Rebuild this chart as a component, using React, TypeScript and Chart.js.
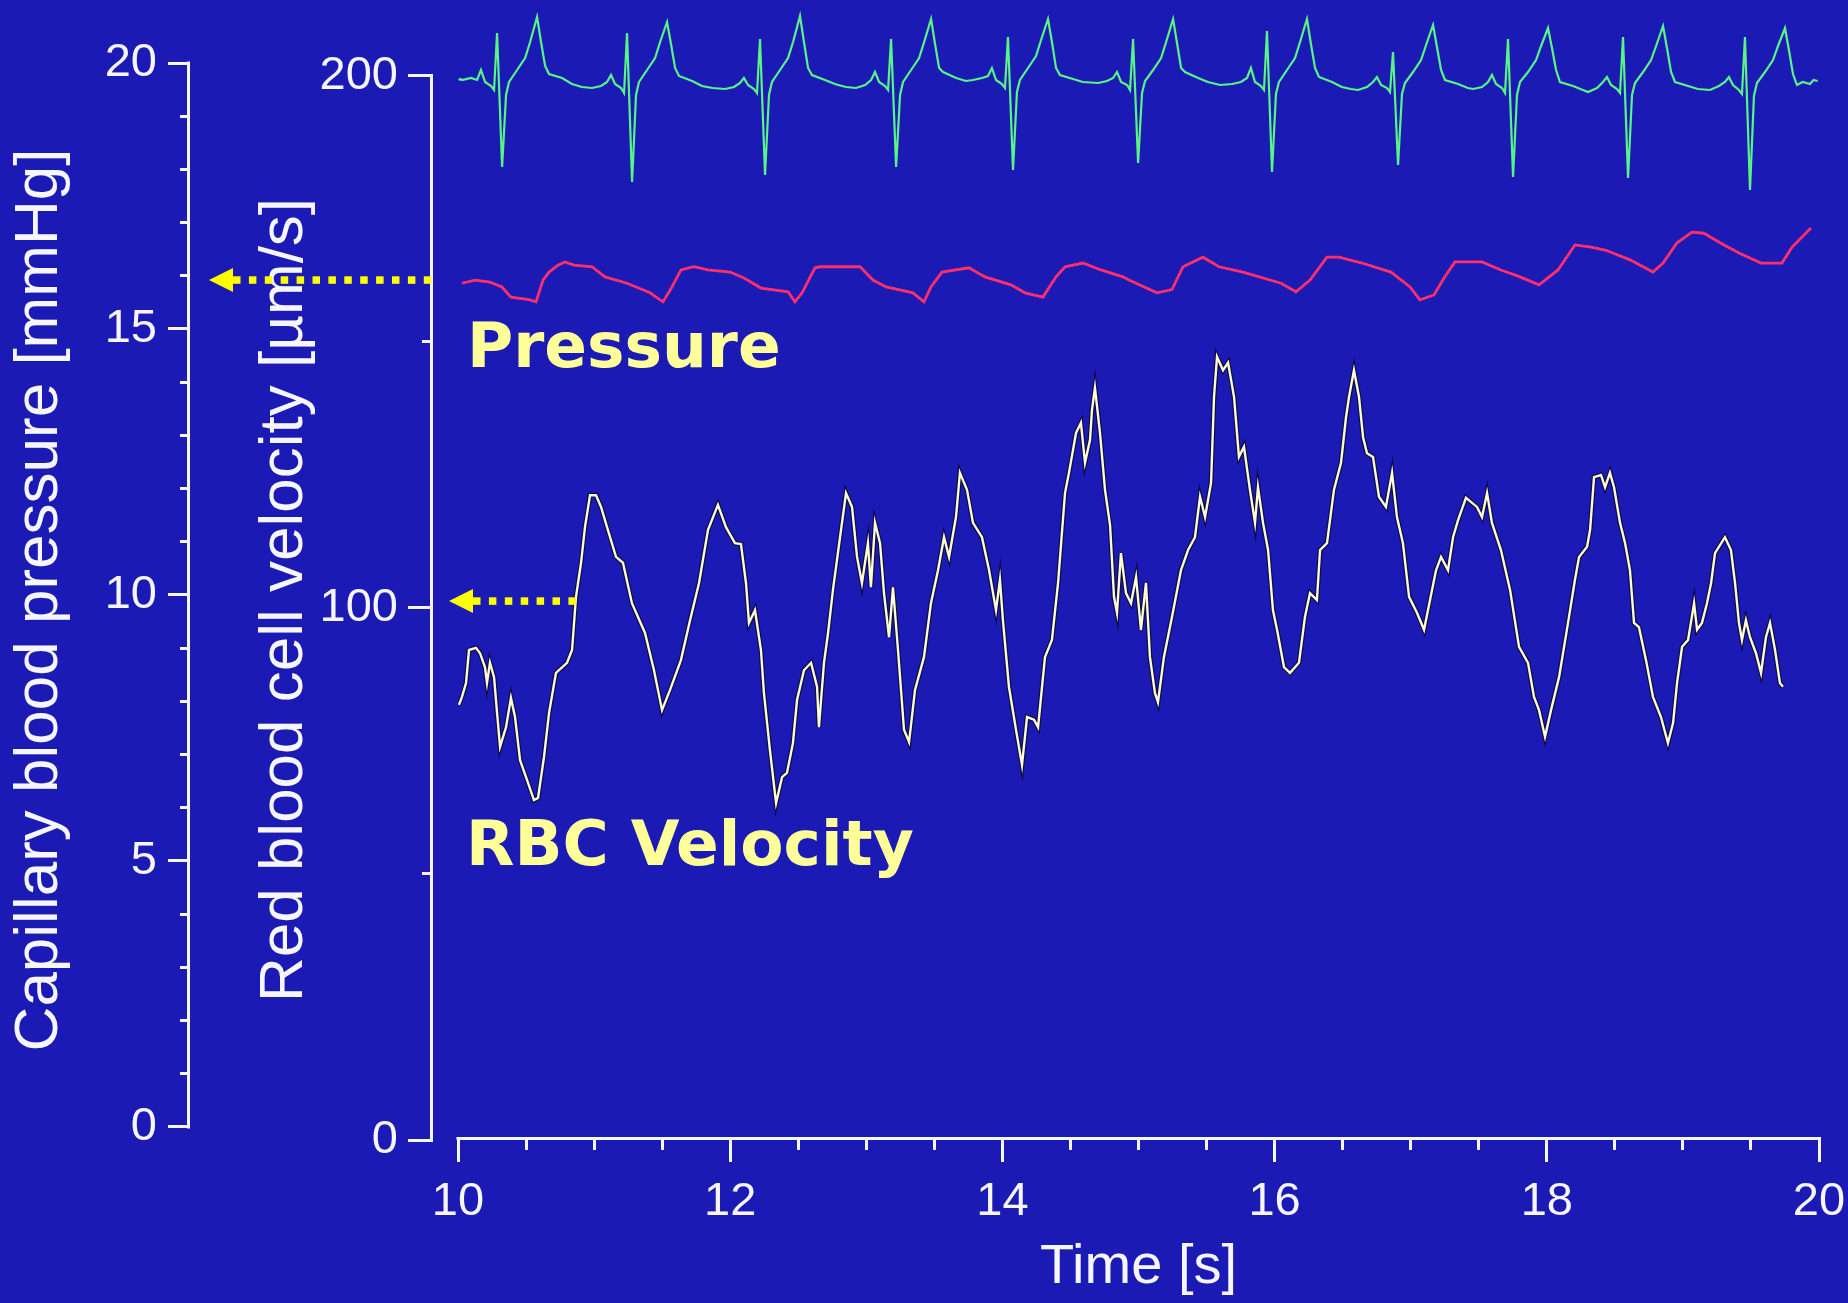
import React, { useEffect, useRef } from 'react';
import { Chart, registerables } from 'chart.js';

Chart.register(...registerables);

// ---------------- data ----------------
const timeMajorTicks = [10, 12, 14, 16, 18, 20];
const timeMinorTicks = [10.5, 11, 11.5, 12.5, 13, 13.5, 14.5, 15, 15.5, 16.5, 17, 17.5, 18.5, 19, 19.5];
const pressureMajorTicks = [0, 5, 10, 15, 20];
const pressureMinorTicks = [1, 2, 3, 4, 6, 7, 8, 9, 11, 12, 13, 14, 16, 17, 18, 19];
const velocityMajorTicks = [0, 100, 200];
const velocityMinorTicks = [50, 150];

// ECG (mV, hidden axis)
const ecgTime = [
  10.005, 10.018,
  10.030, 10.096, 10.140, 10.169, 10.199, 10.243, 10.265, 10.287, 10.324, 10.353, 10.375, 10.434, 10.493, 10.530, 10.581, 10.610, 10.640, 10.669, 10.765, 10.837, 10.910,
  10.985, 11.051, 11.095, 11.124, 11.154, 11.198, 11.220, 11.242, 11.279, 11.308, 11.330, 11.389, 11.448, 11.485, 11.536, 11.565, 11.595, 11.624, 11.720, 11.792, 11.870,
  11.962, 12.028, 12.072, 12.101, 12.131, 12.175, 12.197, 12.219, 12.256, 12.285, 12.307, 12.366, 12.425, 12.462, 12.513, 12.542, 12.572, 12.601, 12.697, 12.769, 12.850,
  12.925, 12.991, 13.035, 13.064, 13.094, 13.138, 13.160, 13.182, 13.219, 13.248, 13.270, 13.329, 13.388, 13.425, 13.476, 13.505, 13.535, 13.564, 13.660, 13.732,
  13.784, 13.850, 13.894, 13.923, 13.953, 13.997, 14.019, 14.041, 14.078, 14.107, 14.129, 14.188, 14.247, 14.284, 14.335, 14.364, 14.394, 14.423, 14.519, 14.591,
  14.703, 14.769, 14.813, 14.842, 14.872, 14.916, 14.938, 14.960, 14.997, 15.026, 15.048, 15.107, 15.166, 15.203, 15.254, 15.283, 15.313, 15.342, 15.438, 15.510, 15.600,
  15.687, 15.753, 15.797, 15.826, 15.856, 15.900, 15.922, 15.944, 15.981, 16.010, 16.032, 16.091, 16.150, 16.187, 16.238, 16.267, 16.297, 16.326, 16.422, 16.494, 16.560,
  16.613, 16.679, 16.723, 16.752, 16.782, 16.826, 16.848, 16.870, 16.907, 16.936, 16.958, 17.017, 17.076, 17.113, 17.164, 17.193, 17.223, 17.252, 17.348, 17.420,
  17.458, 17.524, 17.568, 17.597, 17.627, 17.671, 17.693, 17.715, 17.752, 17.781, 17.803, 17.862, 17.921, 17.958, 18.009, 18.038, 18.068, 18.097, 18.193, 18.265,
  18.303, 18.369, 18.413, 18.442, 18.472, 18.516, 18.538, 18.560, 18.597, 18.626, 18.648, 18.707, 18.766, 18.803, 18.854, 18.883, 18.913, 18.942, 19.038, 19.110,
  19.199, 19.265, 19.309, 19.338, 19.368, 19.412, 19.434, 19.456, 19.493, 19.522, 19.544, 19.603, 19.662, 19.699, 19.750, 19.779, 19.809, 19.838, 19.880, 19.934, 19.960, 19.990,
];
const ecgValue = [
  0.00, 0.01,
  0.00, 0.02, 0.00, 0.10, -0.02, -0.06, -0.10, 0.47, -0.87, -0.15, -0.02, 0.10, 0.22, 0.38, 0.63, 0.38, 0.14, 0.06, 0.02, -0.04, -0.07,
  -0.08, -0.06, -0.02, 0.05, -0.04, -0.08, -0.13, 0.47, -1.02, -0.15, -0.02, 0.10, 0.22, 0.38, 0.58, 0.36, 0.12, 0.04, -0.01, -0.06, -0.08,
  -0.09, -0.07, -0.03, 0.02, -0.05, -0.09, -0.13, 0.41, -0.95, -0.15, -0.02, 0.10, 0.22, 0.38, 0.64, 0.38, 0.12, 0.05, 0.00, -0.04, -0.07,
  -0.08, -0.05, 0.00, 0.08, -0.02, -0.06, -0.10, 0.41, -0.87, -0.15, -0.02, 0.10, 0.22, 0.38, 0.61, 0.36, 0.12, 0.08, 0.02, -0.01,
  0.00, 0.02, 0.04, 0.12, 0.00, -0.04, -0.08, 0.43, -0.90, -0.12, 0.00, 0.12, 0.24, 0.40, 0.61, 0.38, 0.12, 0.05, 0.01, -0.02,
  -0.03, -0.01, 0.02, 0.08, -0.02, -0.05, -0.10, 0.41, -0.83, -0.13, -0.01, 0.10, 0.22, 0.38, 0.61, 0.37, 0.12, 0.08, 0.02, -0.02, -0.05,
  -0.04, -0.02, 0.02, 0.12, -0.02, -0.06, -0.10, 0.49, -0.92, -0.14, -0.02, 0.10, 0.22, 0.38, 0.61, 0.36, 0.12, 0.03, -0.02, -0.07, -0.09,
  -0.10, -0.07, -0.02, 0.03, -0.05, -0.08, -0.12, 0.28, -0.85, -0.14, -0.03, 0.08, 0.20, 0.35, 0.55, 0.33, 0.10, 0.00, -0.04, -0.08,
  -0.09, -0.07, -0.02, 0.05, -0.04, -0.08, -0.13, 0.41, -0.97, -0.15, -0.02, 0.08, 0.20, 0.34, 0.52, 0.32, 0.10, -0.02, -0.06, -0.10,
  -0.12, -0.08, -0.02, 0.03, -0.05, -0.09, -0.13, 0.43, -0.98, -0.15, -0.03, 0.08, 0.20, 0.34, 0.54, 0.32, 0.08, -0.02, -0.06, -0.09,
  -0.10, -0.06, -0.02, 0.03, -0.05, -0.10, -0.14, 0.43, -1.10, -0.16, -0.03, 0.08, 0.20, 0.34, 0.52, 0.30, 0.06, -0.05, -0.02, -0.04, 0.00, -0.01,
];

// Capillary pressure (mmHg)
const pressureTime = [
  10.029, 10.125, 10.235, 10.323, 10.389, 10.522, 10.573, 10.625, 10.669, 10.735, 10.786, 10.852, 10.985, 11.080, 11.242,
  11.411, 11.506, 11.572, 11.638, 11.734, 11.837, 11.999, 12.101, 12.226, 12.425, 12.476, 12.528, 12.623, 12.660, 12.954,
  13.049, 13.145, 13.343, 13.424, 13.475, 13.556, 13.755, 13.872, 14.063, 14.166, 14.298, 14.394, 14.460, 14.592, 14.724,
  14.886, 14.930, 15.136, 15.246, 15.327, 15.474, 15.591, 15.768, 16.047, 16.157, 16.260, 16.385, 16.473, 16.642, 16.855,
  16.995, 17.068, 17.171, 17.245, 17.325, 17.524, 17.663, 17.803, 17.943, 18.082, 18.207, 18.325, 18.435, 18.611, 18.780,
  18.854, 18.957, 19.067, 19.155, 19.273, 19.412, 19.574, 19.728, 19.802, 19.941,
];
const pressureValue = [
  15.86, 15.92, 15.88, 15.79, 15.60, 15.55, 15.51, 15.92, 16.07, 16.20, 16.26, 16.20, 16.17, 15.98, 15.86,
  15.68, 15.51, 15.79, 16.11, 16.17, 16.11, 16.07, 15.96, 15.77, 15.70, 15.51, 15.68, 16.15, 16.17, 16.17,
  15.92, 15.79, 15.68, 15.51, 15.79, 16.07, 16.15, 15.98, 15.83, 15.68, 15.60, 15.98, 16.17, 16.24, 16.11,
  15.98, 15.92, 15.68, 15.74, 16.17, 16.35, 16.17, 16.07, 15.86, 15.70, 15.92, 16.35, 16.35, 16.24, 16.07,
  15.79, 15.55, 15.64, 15.96, 16.26, 16.26, 16.11, 15.98, 15.83, 16.11, 16.58, 16.54, 16.48, 16.30, 16.07,
  16.24, 16.62, 16.82, 16.80, 16.62, 16.43, 16.24, 16.24, 16.54, 16.90,
];

// Red blood cell velocity (µm/s)
const velocityTime = [
  10.007, 10.029, 10.059, 10.081, 10.132, 10.162, 10.198, 10.213, 10.235, 10.265, 10.287, 10.309, 10.353, 10.389, 10.419,
  10.456, 10.507, 10.558, 10.588, 10.632, 10.669, 10.720, 10.801, 10.838, 10.867, 10.904, 10.933, 10.970, 11.014, 11.051,
  11.095, 11.161, 11.212, 11.278, 11.374, 11.440, 11.499, 11.558, 11.638, 11.705, 11.771, 11.837, 11.910, 11.969, 12.035,
  12.079, 12.116, 12.138, 12.182, 12.226, 12.248, 12.292, 12.337, 12.381, 12.417, 12.461, 12.491, 12.542, 12.594, 12.638,
  12.652, 12.689, 12.719, 12.755, 12.807, 12.851, 12.895, 12.932, 12.968, 13.012, 13.034, 13.064, 13.101, 13.130, 13.167,
  13.196, 13.233, 13.277, 13.314, 13.358, 13.424, 13.475, 13.527, 13.571, 13.608, 13.659, 13.688, 13.740, 13.784, 13.850,
  13.902, 13.953, 13.982, 14.004, 14.048, 14.100, 14.144, 14.181, 14.232, 14.262, 14.313, 14.364, 14.409, 14.460, 14.489,
  14.541, 14.577, 14.607, 14.644, 14.658, 14.680, 14.717, 14.754, 14.791, 14.820, 14.842, 14.871, 14.908, 14.945, 14.982,
  15.018, 15.055, 15.084, 15.121, 15.143, 15.187, 15.246, 15.312, 15.364, 15.415, 15.452, 15.489, 15.533, 15.555, 15.577,
  15.621, 15.658, 15.702, 15.738, 15.775, 15.819, 15.856, 15.878, 15.915, 15.952, 15.988, 16.018, 16.069, 16.113, 16.179,
  16.223, 16.260, 16.311, 16.334, 16.385, 16.436, 16.488, 16.525, 16.547, 16.583, 16.620, 16.650, 16.679, 16.723, 16.767,
  16.818, 16.863, 16.899, 16.943, 16.988, 17.046, 17.098, 17.142, 17.186, 17.223, 17.274, 17.311, 17.348, 17.406, 17.487,
  17.524, 17.561, 17.597, 17.663, 17.730, 17.796, 17.862, 17.906, 17.943, 17.987, 18.031, 18.090, 18.156, 18.207, 18.237,
  18.296, 18.318, 18.347, 18.398, 18.428, 18.464, 18.494, 18.538, 18.575, 18.611, 18.641, 18.677, 18.729, 18.780, 18.839,
  18.890, 18.928, 18.957, 18.994, 19.038, 19.082, 19.104, 19.140, 19.177, 19.207, 19.236, 19.309, 19.353, 19.383, 19.412,
  19.434, 19.463, 19.493, 19.537, 19.574, 19.610, 19.640, 19.677, 19.713, 19.735,
];
const velocityValue = [
  81.8, 83.3, 85.9, 92.1, 92.5, 91.5, 88.9, 85.9, 89.7, 87.0, 80.3, 73.9, 77.6, 83.1, 79.5,
  71.4, 67.7, 63.9, 64.3, 72.0, 80.3, 87.8, 89.7, 92.1, 102.1, 108.5, 115.2, 121.2, 121.2, 119.0,
  115.2, 109.6, 108.5, 100.9, 95.3, 88.3, 80.8, 84.6, 90.2, 97.7, 104.7, 114.7, 119.4, 115.2, 112.2,
  112.0, 104.7, 97.2, 99.6, 92.1, 84.0, 73.3, 63.3, 68.2, 69.0, 74.6, 82.7, 88.3, 89.7, 85.2,
  77.6, 89.7, 95.3, 103.4, 113.3, 121.6, 119.0, 109.6, 104.7, 112.2, 103.9, 116.0, 112.2, 102.8, 94.5,
  103.9, 92.1, 77.1, 74.8, 84.6, 90.8, 100.9, 107.1, 113.3, 109.6, 117.1, 125.4, 122.2, 116.0, 113.3,
  107.1, 99.6, 105.3, 97.7, 85.2, 77.1, 70.5, 79.5, 79.0, 77.6, 90.8, 94.0, 104.7, 121.6, 125.4,
  132.9, 134.8, 127.3, 131.6, 137.2, 141.4, 132.9, 122.2, 115.6, 102.1, 99.1, 110.3, 102.8, 100.9, 105.8,
  95.9, 104.7, 90.8, 84.0, 82.3, 90.8, 98.3, 107.1, 110.9, 113.3, 120.9, 117.1, 123.5, 139.7, 147.2,
  144.7, 146.1, 139.7, 128.4, 130.3, 122.2, 116.0, 122.7, 116.0, 110.9, 99.6, 95.9, 88.9, 87.8, 89.7,
  98.3, 102.8, 101.5, 110.9, 112.2, 122.2, 127.3, 135.9, 139.7, 144.7, 139.7, 132.1, 129.1, 128.4, 120.9,
  119.0, 125.4, 117.1, 112.2, 102.1, 99.1, 95.9, 101.5, 107.1, 109.6, 107.1, 113.3, 116.5, 120.7, 119.0,
  117.1, 121.6, 116.0, 110.9, 103.4, 92.7, 89.7, 83.3, 80.8, 75.8, 80.8, 87.0, 97.2, 105.3, 109.6,
  111.5, 114.7, 124.6, 125.0, 122.7, 125.4, 122.7, 116.0, 112.2, 107.1, 97.2, 96.4, 90.2, 83.3, 79.5,
  74.6, 78.4, 85.9, 92.7, 94.0, 100.9, 95.9, 97.2, 100.9, 104.7, 110.3, 113.3, 110.9, 104.7, 97.2,
  94.0, 97.7, 94.5, 91.5, 87.8, 94.5, 97.2, 92.1, 85.9, 85.2,
];

const pressureAxisTitle = 'Capillary blood pressure [mmHg]';
const velocityAxisTitle = 'Red blood cell velocity [µm/s]';
const timeAxisTitle = 'Time [s]';
const pressureLabel = 'Pressure';
const velocityLabel = 'RBC Velocity';
const pressureArrowLevel = 15.92; // mmHg
const velocityArrowLevel = 101.3; // µm/s

// axis ranges
const timeMin = 10;
const timeMax = 20;
const pressureMin = -0.188;
const pressureMax = 20;
const velocityMin = 0.564;
const velocityMax = 202.44;
const ecgMin = -10.57;
const ecgMax = 0.17;

// ---------------- styles ----------------
const BG = '#1c1ab4';
const AXIS = '#f6f6ff';
const TICK_FONT = { family: "'Liberation Sans', Arial, sans-serif", size: 47, lineHeight: 1.2 };
const TITLE_FONT = { family: "'Liberation Sans', Arial, sans-serif", size: 62, lineHeight: 1 };
const VEL_GAP = 25;

const toPoints = (xs: number[], ys: number[]) => xs.map((x, i) => ({ x, y: ys[i] }));
const sortedTicks = (a: number[], b: number[]) => [...a, ...b].sort((p, q) => p - q).map((value) => ({ value }));

const decorPlugin = {
  id: 'decor',
  beforeDraw(chart: any) {
    const { ctx, width, height } = chart;
    ctx.save();
    ctx.fillStyle = BG;
    ctx.fillRect(0, 0, width, height);
    ctx.restore();
  },
  beforeDatasetsDraw(chart: any) {
    const { ctx } = chart;
    const xs = chart.scales.x;
    const yp = chart.scales.yp;
    const yv = chart.scales.yv;
    ctx.save();
    ctx.strokeStyle = AXIS;
    ctx.lineWidth = 3;
    ctx.lineCap = 'butt';
    const line = (x1: number, y1: number, x2: number, y2: number) => {
      ctx.beginPath();
      ctx.moveTo(x1, y1);
      ctx.lineTo(x2, y2);
      ctx.stroke();
    };
    const px = yp.right - 1.5;
    line(px, yp.getPixelForValue(20) - 1.5, px, yp.getPixelForValue(0) + 1.5);
    const vx = yv.right - VEL_GAP - 1.5;
    line(vx, yv.getPixelForValue(200) - 1.5, vx, yv.getPixelForValue(0) + 1.5);
    const xy = xs.top + 1.5;
    line(xs.getPixelForValue(timeMin) - 1.5, xy, xs.getPixelForValue(timeMax) + 1.5, xy);
    ctx.restore();
  },
  afterDraw(chart: any) {
    const { ctx, chartArea } = chart;
    const yp = chart.scales.yp;
    const yv = chart.scales.yv;
    ctx.save();
    ctx.fillStyle = '#ffff00';
    const arrow = (tip: number, y: number, dots: number) => {
      const base = tip + 24;
      ctx.beginPath();
      ctx.moveTo(tip, y);
      ctx.lineTo(base, y - 12);
      ctx.lineTo(base, y + 12);
      ctx.closePath();
      ctx.fill();
      for (let k = 0; k < dots; k++) {
        ctx.fillRect(base + k * 15.9, y - 3.75, 7.5, 7.5);
      }
    };
    arrow(yp.right + 19, yp.getPixelForValue(pressureArrowLevel), 13);
    arrow(yv.right - VEL_GAP + 16, yv.getPixelForValue(velocityArrowLevel), 7);

    ctx.fillStyle = '#ffff99';
    ctx.font = "bold 63px 'DejaVu Sans', Verdana, sans-serif";
    ctx.textBaseline = 'alphabetic';
    ctx.textAlign = 'left';
    ctx.fillText(pressureLabel, chartArea.left + 9, chartArea.top + 304);
    ctx.fillText(velocityLabel, chartArea.left + 8, chartArea.top + 802);
    ctx.restore();
  },
};

export default function App() {
  const canvasRef = useRef<HTMLCanvasElement | null>(null);

  useEffect(() => {
    document.body.style.margin = '0';
    document.body.style.background = BG;
    const canvas = canvasRef.current;
    if (!canvas) return;

    const velPts = toPoints(velocityTime, velocityValue);
    const chart = new Chart(canvas, {
      type: 'line',
      data: {
        datasets: [
          { label: 'RBC velocity', data: velPts, yAxisID: 'yv', borderColor: '#fdfbd4', borderWidth: 2.4, pointRadius: 0, tension: 0, order: 1 },
          { label: 'RBC velocity edge', data: velPts, yAxisID: 'yv', borderColor: '#0c0c48', borderWidth: 4.8, pointRadius: 0, tension: 0, order: 4 },
          { label: 'Pressure', data: toPoints(pressureTime, pressureValue), yAxisID: 'yp', borderColor: '#ff2f6c', borderWidth: 2.8, pointRadius: 0, tension: 0, order: 2 },
          { label: 'ECG', data: toPoints(ecgTime, ecgValue), yAxisID: 'ye', borderColor: '#58f585', borderWidth: 2.2, pointRadius: 0, tension: 0, order: 3, clip: false },
        ],
      } as any,
      options: {
        responsive: false,
        animation: false,
        devicePixelRatio: 1,
        events: [],
        layout: { padding: { left: 0, right: 29, top: 63, bottom: 0 } },
        plugins: { legend: { display: false }, tooltip: { enabled: false } },
        scales: {
          x: {
            type: 'linear',
            position: 'bottom',
            min: timeMin,
            max: timeMax,
            afterBuildTicks: (s: any) => { s.ticks = sortedTicks(timeMajorTicks, timeMinorTicks); },
            afterFit: (s: any) => { s.height = 166; s.paddingLeft = 0; s.paddingRight = 0; },
            border: { display: false },
            grid: {
              display: true, drawOnChartArea: false, drawTicks: true, tickLength: 25, tickWidth: 3, tickColor: AXIS,
              tickBorderDash: (c: any) => (c.tick && timeMajorTicks.includes(c.tick.value) ? [] : [13, 200]),
            },
            ticks: {
              autoSkip: false, maxRotation: 0, minRotation: 0, padding: 12, color: AXIS, font: TICK_FONT,
              callback: (v: any) => (timeMajorTicks.includes(Number(v)) ? String(v) : ''),
            },
            title: {
              display: true, text: timeAxisTitle, color: AXIS,
              font: { family: "'Liberation Sans', Arial, sans-serif", size: 56, lineHeight: 1 },
              padding: { top: 0, bottom: 7 },
            },
          },
          yp: {
            type: 'linear',
            position: 'left',
            weight: 2,
            min: pressureMin,
            max: pressureMax,
            afterBuildTicks: (s: any) => { s.ticks = sortedTicks(pressureMajorTicks, pressureMinorTicks); },
            afterFit: (s: any) => { s.width = 190; s.paddingTop = 0; s.paddingBottom = 0; },
            border: { display: false },
            grid: {
              display: true, drawOnChartArea: false, drawTicks: true, tickLength: 22, tickWidth: 3, tickColor: AXIS,
              tickBorderDash: (c: any) => (c.tick && pressureMajorTicks.includes(c.tick.value) ? [] : [0, 12, 10, 200]),
            },
            ticks: {
              autoSkip: false, padding: 11, color: AXIS, font: TICK_FONT,
              callback: (v: any) => (pressureMajorTicks.includes(Number(v)) ? String(v) : ''),
            },
            title: { display: true, text: pressureAxisTitle, color: AXIS, font: TITLE_FONT, padding: { top: 9, bottom: 0 } },
          },
          yv: {
            type: 'linear',
            position: 'left',
            weight: 1,
            min: velocityMin,
            max: velocityMax,
            afterBuildTicks: (s: any) => { s.ticks = sortedTicks(velocityMajorTicks, velocityMinorTicks); },
            afterFit: (s: any) => { s.width = 268; s.paddingTop = 0; s.paddingBottom = 0; },
            border: { display: false },
            grid: {
              display: true, drawOnChartArea: false, drawTicks: true, tickLength: 50, tickWidth: 3, tickColor: AXIS,
              tickBorderDash: (c: any) => (c.tick && velocityMajorTicks.includes(c.tick.value) ? [25, 200] : [0, 14, 11, 200]),
            },
            ticks: {
              autoSkip: false, padding: 10, color: AXIS, font: TICK_FONT,
              callback: (v: any) => (velocityMajorTicks.includes(Number(v)) ? String(v) : ''),
            },
            title: { display: true, text: velocityAxisTitle, color: AXIS, font: TITLE_FONT, padding: { top: 64, bottom: 0 } },
          },
          ye: {
            type: 'linear',
            position: 'right',
            display: false,
            min: ecgMin,
            max: ecgMax,
          },
        },
      } as any,
      plugins: [decorPlugin],
    });
    return () => chart.destroy();
  }, []);

  return (
    <div style={{ position: 'absolute', left: 0, top: 0, width: 1848, height: 1303, background: BG }}>
      <canvas ref={canvasRef} width={1848} height={1303} style={{ display: 'block' }} />
    </div>
  );
}
